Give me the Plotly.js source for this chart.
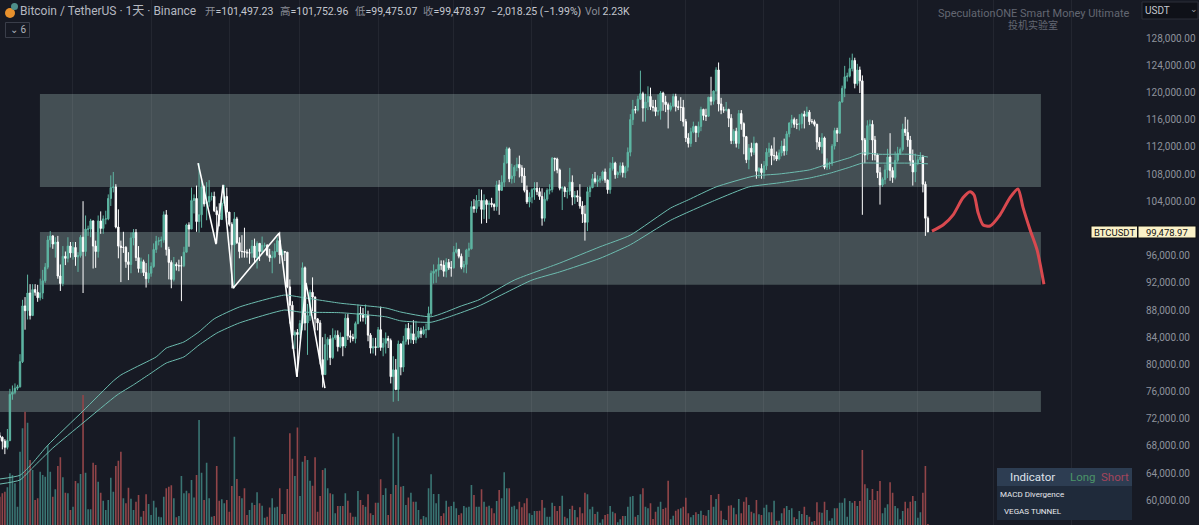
<!DOCTYPE html>
<html>
<head>
<meta charset="utf-8">
<script src="https://cdn.plot.ly/plotly-3.0.1.min.js"></script>
<style>html,body{margin:0;padding:0;background:#171a24;overflow:hidden}#chart{width:1199px;height:525px}</style>
</head>
<body>
<div id="chart"></div>
<script>
// Daily BTC/USDT candles, prices in thousands of USDT, first candle = day 0
const opens = [
70.3,69.5,69.3,68.7,67.8,68.8,75.6,75.9,76.5,76.7,80.4,88.6,87.9,90.5,87.2,91.0,90.6,89.8,90.5,92.3,94.3,98.3,98.9,97.7,98.0,93.0,91.9,95.9,95.6,97.4,
96.4,97.2,95.8,96.0,98.7,96.6,99.9,99.9,101.1,97.4,96.6,101.1,100.0,101.4,101.4,104.4,106.0,106.1,100.2,97.4,97.2,97.2,95.1,94.7,98.6,99.4,95.7,94.1,95.1,93.5,92.6,
93.4,94.4,96.9,98.1,98.2,98.3,102.0,96.9,95.0,92.5,94.7,94.5,94.5,94.5,96.5,100.5,99.9,104.1,104.4,101.0,102.0,106.1,103.6,103.9,104.7,104.7,102.6,102.0,101.3,103.7,104.7,
102.4,100.6,97.6,101.4,97.9,96.6,96.6,96.5,96.4,96.4,97.4,95.7,97.8,96.6,97.5,97.5,96.1,95.7,95.8,96.6,98.2,96.1,96.6,96.5,91.4,88.7,84.3,84.7,
84.4,86.0,94.2,86.1,87.2,90.6,89.9,86.7,86.1,80.7,78.5,82.9,83.7,81.0,83.9,84.3,82.6,84.0,82.7,86.8,84.2,84.0,83.8,86.0,87.5,87.4,86.9,87.2,84.3,82.4,82.6,
82.5,85.1,82.5,83.1,83.8,83.5,78.2,79.2,76.3,83.0,79.6,83.4,85.3,83.7,84.5,83.6,84.0,84.9,84.5,85.1,85.1,87.5,93.4,93.7,93.9,94.7,94.6,93.7,95.0,94.2,
94.2,96.5,96.9,95.9,94.3,94.7,96.8,97.0,103.2,102.9,104.1,104.1,102.8,104.1,103.5,103.7,103.5,103.2,106.4,105.6,106.8,109.6,111.7,107.3,107.7,109.0,109.4,108.9,107.7,105.6,103.9,
104.6,105.7,105.9,105.4,104.7,101.5,104.3,105.6,105.7,110.3,110.2,108.6,105.9,106.0,105.4,105.5,106.8,104.6,104.8,104.6,103.3,102.1,100.9,105.4,106.0,107.3,106.9,107.1,107.3,108.3,
107.1,105.7,108.8,109.6,107.9,108.2,109.2,108.2,109.0,111.2,116.0,117.5,117.4,119.0,119.8,117.7,118.6,119.4,117.9,117.8,117.2,117.3,119.9,118.6,118.2,117.5,118.0,119.4,117.9,117.8,117.8,
115.7,113.3,112.5,114.2,115.0,114.1,115.0,117.5,116.6,116.5,119.3,118.7,120.2,123.3,118.3,117.4,117.4,117.5,116.2,112.9,114.3,112.5,116.9,115.4,113.5,110.1,111.8,111.2,112.5,108.4,108.8,
108.2,109.2,111.2,111.7,110.7,110.7,110.2,111.1,112.1,111.4,113.9,115.5,116.0,115.3,115.3,115.4,116.8,116.5,117.1,115.7,115.7,115.3,112.7,112.0,113.3,109.0,109.6,109.6,112.1,114.4,
114.0,118.6,120.6,122.3,122.4,123.5,124.7,121.3,123.3,121.7,113.0,110.8,115.1,115.3,113.0,110.8,108.2,106.4,107.2,108.6,110.5,108.5,107.5,110.0,111.0,111.6,114.6,114.1,113.0,110.0,108.3,
109.6,110.1,110.5,106.5,101.497];
const highs = [
71.6,70.0,69.4,69.0,70.5,76.4,76.9,77.2,77.0,81.5,89.5,89.9,93.2,91.8,91.8,91.8,91.7,92.6,93.9,94.9,98.9,99.6,99.0,98.7,98.9,94.7,97.4,96.6,98.7,98.0,
98.0,98.0,96.5,99.0,104.0,101.9,100.4,101.4,101.2,98.2,101.9,102.5,101.9,102.6,105.0,107.8,108.3,106.5,102.8,98.2,99.5,97.4,96.5,99.4,99.9,99.9,97.4,95.7,95.4,94.9,96.2,
95.0,97.8,98.9,98.7,98.8,102.5,102.7,97.3,95.3,95.8,95.0,95.4,95.9,97.3,100.7,100.9,106.0,105.0,106.3,109.6,107.2,106.3,106.8,107.1,105.3,105.4,103.2,103.7,104.0,106.4,106.0,
102.0,100.9,102.4,101.7,98.7,99.0,100.1,96.9,97.0,98.3,98.5,98.1,97.3,98.8,97.9,97.7,97.0,96.7,97.8,98.7,99.5,96.9,96.6,96.5,92.5,89.3,85.0,85.2,
86.5,95.0,94.4,88.9,91.0,92.8,90.0,86.8,86.5,84.0,84.5,84.0,84.3,85.3,85.0,85.0,84.7,84.0,87.4,87.4,85.0,84.5,86.3,88.8,88.5,88.3,88.8,87.9,84.6,83.9,83.9,
85.5,88.5,83.9,84.7,84.2,83.8,81.2,80.8,83.5,83.1,84.2,85.9,86.1,85.8,86.5,86.4,85.5,85.4,85.6,86.0,88.5,93.8,94.7,94.0,95.7,95.3,95.3,95.6,95.5,95.2,
97.4,97.9,97.0,96.3,95.2,97.0,97.9,104.0,104.3,104.9,105.8,105.7,105.0,104.3,104.1,104.5,103.7,107.0,107.1,107.8,110.8,112.0,111.9,109.5,109.3,110.4,110.7,109.3,108.9,106.3,105.3,
105.9,106.8,106.8,106.0,105.9,105.3,105.9,106.5,110.5,110.4,110.4,108.8,106.2,106.2,106.0,108.9,107.8,105.5,105.6,106.5,104.0,103.4,106.1,106.3,108.0,108.3,107.8,107.7,108.5,108.8,
107.2,109.7,110.5,109.8,108.4,109.7,109.7,109.2,111.9,116.8,118.9,118.0,119.5,123.2,120.1,119.8,120.9,120.7,118.9,118.9,119.7,120.2,120.1,119.5,118.5,118.5,119.8,119.8,118.8,119.3,118.9,
116.1,114.0,114.8,115.7,115.1,115.7,117.9,117.6,117.6,119.3,122.3,120.3,123.7,124.4,119.2,117.9,118.6,117.6,116.8,114.6,114.8,117.4,117.4,115.6,113.6,112.4,112.6,113.5,112.6,109.0,109.5,
109.9,111.8,112.6,112.2,113.4,111.3,111.6,112.9,113.2,114.3,115.6,116.7,116.3,116.1,116.8,117.0,117.3,117.9,117.4,116.1,116.0,115.4,113.4,114.0,113.5,110.3,109.8,112.4,114.8,114.8,
118.7,121.0,123.9,122.9,125.1,125.7,125.1,124.2,123.8,122.5,113.3,115.9,116.0,115.9,113.6,111.0,109.0,107.5,109.4,111.7,114.0,109.0,111.3,112.0,111.9,115.4,116.4,116.0,113.6,111.6,111.0,
110.6,111.2,110.8,106.9,101.753];
const lows = [
68.8,68.8,67.5,66.8,67.5,68.7,74.8,75.6,76.2,76.6,80.2,85.1,86.6,86.6,87.1,90.1,89.2,89.4,89.6,92.0,94.0,97.2,97.0,95.7,92.6,90.8,91.5,94.6,95.0,95.7,
95.4,94.5,93.6,95.7,90.5,95.9,98.9,98.7,94.1,94.2,95.7,99.2,99.2,100.6,101.2,103.3,105.3,100.0,95.6,92.1,96.4,94.2,92.4,93.4,97.5,95.2,93.5,93.4,93.0,91.3,92.0,
92.9,94.2,96.4,97.5,97.2,97.9,96.0,92.5,91.2,92.2,93.8,93.7,89.3,94.3,96.5,97.3,99.9,102.2,99.5,99.4,100.1,103.2,101.2,103.2,104.1,102.4,97.8,100.3,101.3,103.3,101.5,
100.3,91.2,91.2,97.7,95.6,95.7,95.7,95.7,94.8,95.7,94.9,94.1,95.2,96.2,97.2,95.9,95.1,93.4,95.6,96.5,94.8,96.2,95.2,91.2,86.0,82.3,82.3,78.2,
83.8,85.0,85.0,81.4,86.4,87.8,85.0,85.0,80.0,76.6,78.6,80.6,79.9,80.8,83.6,81.9,82.4,81.2,82.4,83.6,83.2,83.4,83.1,85.9,86.3,86.3,85.9,83.4,81.6,81.6,81.3,
82.4,82.0,81.2,81.6,82.4,77.2,74.5,76.2,74.6,78.4,78.9,82.9,82.9,83.1,83.0,83.1,83.8,83.9,84.3,83.9,85.1,87.1,91.9,92.0,92.9,93.9,92.9,92.8,93.9,92.9,
94.1,96.3,95.6,94.0,93.5,93.4,95.8,96.9,102.3,102.3,103.2,100.7,101.4,100.8,101.4,103.1,102.6,102.6,102.0,105.5,106.1,109.7,106.8,106.6,106.7,108.4,107.5,106.7,105.3,103.6,103.1,
103.7,104.2,104.9,104.2,100.4,101.0,104.0,105.0,105.3,108.4,108.1,105.6,102.7,104.6,104.4,104.9,103.4,103.6,103.9,102.9,100.8,98.2,99.6,104.6,105.9,106.6,106.1,106.7,107.0,106.7,
105.1,105.1,108.5,107.3,107.4,107.8,107.5,107.4,108.4,110.6,115.2,116.9,117.2,118.9,115.7,115.7,117.4,117.4,117.2,116.5,116.6,116.0,117.3,117.1,114.7,117.2,117.8,117.2,117.4,115.8,115.0,
112.7,111.9,112.0,114.0,112.7,113.4,114.3,115.9,115.8,116.4,118.1,118.2,118.9,117.2,116.8,117.0,117.2,114.9,112.4,112.4,111.9,111.7,114.5,110.9,109.6,108.7,110.6,110.8,107.3,107.4,107.3,
107.3,108.6,110.5,109.3,110.0,109.9,110.0,110.6,110.7,110.8,113.4,114.8,114.8,114.6,114.4,114.7,114.7,116.8,115.2,115.4,115.0,111.6,111.5,111.0,108.7,108.6,108.7,109.2,111.6,112.7,
113.9,118.5,119.3,121.6,122.2,123.1,120.6,121.0,119.9,102.0,109.6,110.1,113.0,110.0,110.0,107.4,103.5,106.1,106.5,107.4,107.0,106.7,107.2,109.7,110.8,111.3,113.6,112.0,109.2,106.3,106.8,
109.3,109.8,105.3,98.9,99.475];
const closes = [
69.5,69.3,68.7,67.8,68.8,75.6,75.9,76.5,76.7,80.4,88.6,87.9,90.5,87.2,91.0,90.6,89.8,90.5,92.3,94.3,98.3,98.9,97.7,98.0,93.0,91.9,95.9,95.6,97.4,96.4,
97.2,95.8,96.0,98.7,96.6,99.9,99.9,101.1,97.4,96.6,101.1,100.0,101.4,101.4,104.4,106.0,106.1,100.2,97.4,97.2,97.2,95.1,94.7,98.6,99.4,95.7,94.1,95.1,93.5,92.6,93.4,
94.4,96.9,98.1,98.2,98.3,102.0,96.9,95.0,92.5,94.7,94.5,94.5,94.5,96.5,100.5,99.9,104.1,104.4,101.0,102.0,106.1,103.6,103.9,104.7,104.7,102.6,102.0,101.3,103.7,104.7,102.4,
100.6,97.6,101.4,97.9,96.6,96.6,96.5,96.4,96.4,97.4,95.7,97.8,96.6,97.5,97.5,96.1,95.7,95.8,96.6,98.2,96.1,96.6,96.5,91.4,88.7,84.3,84.7,84.4,
86.0,94.2,86.1,87.2,90.6,89.9,86.7,86.1,80.7,78.5,82.9,83.7,81.0,83.9,84.3,82.6,84.0,82.7,86.8,84.2,84.0,83.8,86.0,87.5,87.4,86.9,87.2,84.3,82.4,82.6,82.5,
85.1,82.5,83.1,83.8,83.5,78.2,79.2,76.3,83.0,79.6,83.4,85.3,83.7,84.5,83.6,84.0,84.9,84.5,85.1,85.1,87.5,93.4,93.7,93.9,94.7,94.6,93.7,95.0,94.2,94.2,
96.5,96.9,95.9,94.3,94.7,96.8,97.0,103.2,102.9,104.1,104.1,102.8,104.1,103.5,103.7,103.5,103.2,106.4,105.6,106.8,109.6,111.7,107.3,107.7,109.0,109.4,108.9,107.7,105.6,103.9,104.6,
105.7,105.9,105.4,104.7,101.5,104.3,105.6,105.7,110.3,110.2,108.6,105.9,106.0,105.4,105.5,106.8,104.6,104.8,104.6,103.3,102.1,100.9,105.4,106.0,107.3,106.9,107.1,107.3,108.3,107.1,
105.7,108.8,109.6,107.9,108.2,109.2,108.2,109.0,111.2,116.0,117.5,117.4,119.0,119.8,117.7,118.6,119.4,117.9,117.8,117.2,117.3,119.9,118.6,118.2,117.5,118.0,119.4,117.9,117.8,117.8,115.7,
113.3,112.5,114.2,115.0,114.1,115.0,117.5,116.6,116.5,119.3,118.7,120.2,123.3,118.3,117.4,117.4,117.5,116.2,112.9,114.3,112.5,116.9,115.4,113.5,110.1,111.8,111.2,112.5,108.4,108.8,108.2,
109.2,111.2,111.7,110.7,110.7,110.2,111.1,112.1,111.4,113.9,115.5,116.0,115.3,115.3,115.4,116.8,116.5,117.1,115.7,115.7,115.3,112.7,112.0,113.3,109.0,109.6,109.6,112.1,114.4,114.0,
118.6,120.6,122.3,122.4,123.5,124.7,121.3,123.3,121.7,113.0,110.8,115.1,115.3,113.0,110.8,108.2,106.4,107.2,108.6,110.5,108.5,107.5,110.0,111.0,111.6,114.6,114.1,113.0,110.0,108.3,109.6,
110.1,110.5,106.5,101.5,99.479];
// Daily volume, thousands of BTC
const volumes = [
11.3,11.3,12.7,13.3,15.1,20.7,20,16.7,7.3,29.3,38.7,45.3,40.9,26,22,
10,10.7,21.3,20,19.3,32,21.3,11.3,14.3,23.6,27.1,19.1,12.9,12.7,6,7.3,17.6,16.7,20.4,52,20.9,6.3,6.3,24.9,24,17.3,12.9,9.7,6,10,18.9,13.3,23.6,25.7,29.3,
10.7,8.7,14.9,10.5,6,9.3,12,3.3,5.6,12.3,8.4,4,9.7,7,3.3,3.1,11.3,14.7,15.3,15.9,10.7,3.1,3.6,19.6,12.7,13.7,12.7,18,11,20,42,20.9,10,24.9,10.7,3.3,3.6,23.6,9.7,10.3,8.7,10,5.3,15.6,35.3,18.4,11.6,10.7,14.7,4,
6,8.9,8,13.1,8.7,7.7,2.9,3.3,7,10.7,7,7.3,14.7,4.4,4.4,14.4,36.7,26.5,19.6,39,11.6,25.3,27.6,26,17.7,15.7,27.1,5.3,11.6,22,22.7,14.7,12.7,12.3,4.7,7.6,7.6,7.6,12.7,9.7,4.9,3.3,3.3,13.6,10,8,7.3,12.3,4.7,4,
8.9,8.9,18.3,12,14.7,4,12.4,36.7,16,35.3,15.3,15.6,8,11,12.9,9.3,9.3,6,2.3,3.6,3.1,14.7,20.3,12.4,8.7,12.4,3.6,4.7,9.7,7.3,7.6,9.3,6.7,4,4.7,7.6,7,7.3,16,12,7.3,7.3,
14.3,9.3,7.3,7.7,6.7,4.7,9.6,14,10.7,21.1,14.7,14.7,7.3,7.7,6.3,9.3,7.1,8.7,10.7,4.7,4,5.6,5.6,5.7,10,6.9,3.3,3.3,8.9,7.6,5.6,7.6,11.7,3.3,2.7,6.4,7.7,6,3.1,7.1,4.7,12.9,12.3,6.3,7.3,4.4,5.3,0.9,2.3,4,4.4,7.6,5.3,4.7,1.1,2.3,3.6,3.6,7.3,11.3,11.6,3.3,4,12.3,14.7,7.3,6.7,8.7,2.4,5.3,7.3,9.3,6.4,6.9,17.7,2.3,3.7,5.7,6.3,6.7,7.3,10.9,4.7,3.1,4,5.1,4.4,5.7,4,3.7,6,12,7.3,10.4,12.4,5.7,2.3,2,7.7,7.9,6.9,4.3,10.4,4.7,9.3,11.1,8,5.3,4.7,10,4.3,4,6.9,8.1,5.1,5.1,9.7,1.7,1.7,4.7,6.7,7.6,6,6.7,3.1,2.4,5.6,4.4,7.3,4,3.3,1.3,1.6,9.1,5.1,4.9,9.3,6,1.7,2.7,6.7,6.7,8.9,8.9,10.7,3.3,9.6,8.9,9.6,7.6,9.6,30,16.3,14.7,10,14.4,10,13.6,17.6,4.7,6.9,8.3,17.1,12.9,7.6,6.7,2.3,5.6,9.3,6.7,9.3,11.6,9.6,2.9,5.1,12.9,23.6,0.4];
// Moving-average tunnel: day number and price
const tunnelDays1 = [1,9,14,20,34,46,49,55,63,67,74,80,86,96,114,120,136,154,160,172,184,191,205,223,239,251,267,274,285,300,310,322,328,338,343,350,362,369];
const tunnelHigh  = [63.15,63.7,65.5,68.1,73.15,77.56,78.44,79.6,81.1,82.4,83.3,84.8,86.7,88.44,90.2,89.9,89,88.3,87.7,87,88.6,89.5,92.4,94.9,97.3,99,103,104.2,106.1,107.7,108,108.6,109.3,110.4,111.1,110.9,110.9,110.5];
const tunnelDays2 = [1,9,14,22,34,47.5,54,60.5,67,74,80,87,96,114,120,136,154,160,172,180,191,212,223,239,251,267,285,298,310,322,330,338,343,350,362,369];
const tunnelLow   = [62.4,63,64.8,67.7,71.4,75.5,77,78.6,80.2,81.1,82.85,84.6,86.1,88,87.7,87.6,87,86.4,86.2,87.1,88.6,92.4,93.6,95.6,97.6,101.2,104.2,106.1,106.7,107.4,108.1,109,109.6,109.6,109.6,109.5];
// Hand-drawn white zigzag and red projection
const zigzagDays  = [79.6,86.7,89.5,93.5,111.7,118.8,122.4,129.9];
const zigzagPrice = [109.6,97.7,106.4,91.2,99.3,78.15,92,76.5];
const projDays  = [370.6,375,379,382.9,385.7,387.3,388.9,390.9,393.6,397.6,401.5,404.7,406.7,409.5,412.3,415];
const projPrice = [99.6,100.5,102,104.5,105.4,104.9,102.3,100.5,100.35,102,104.5,105.8,103.1,99.8,96.8,91.8];
// Zones: from day, to day, price bottom, price top
const zoneFrom   = [16.9,16.9,-2];
const zoneTo     = [413.8,413.8,413.8];
const zoneBottom = [106.1,91.7,73];
const zoneTop    = [119.76,99.47,76.1];
// Month boundaries for vertical grid
const monthDays = [30,61,92,120,151,181,212,242,273,304,334,365,395,426];
// Price ticks (the 100,000 tick is hidden behind the last-price tag in the reference)
const priceTicks = [60,64,68,72,76,80,84,88,92,96,104,108,112,116,120,124,128];
const priceLabels = ["60,000.00","64,000.00","68,000.00","72,000.00","76,000.00","80,000.00","84,000.00","88,000.00","92,000.00","96,000.00","104,000.00","108,000.00","112,000.00","116,000.00","120,000.00","124,000.00","128,000.00"];

const days = closes.map((_, i) => i);
const UP = '#5eb5a2', DOWN = '#ffffff';
const FONT = "Roboto, 'Noto Sans CJK SC', sans-serif";
const W = 1138, H = 525;

const traces = [
  {type:'bar', x:days, y:volumes, yaxis:'y', hoverinfo:'skip', showlegend:false,
   marker:{color:volumes.map((_,i)=> closes[i]>=opens[i] ? '#3a7573' : '#914549'), line:{width:0}}},
  {type:'candlestick', x:days, open:opens, high:highs, low:lows, close:closes, yaxis:'y2', hoverinfo:'skip', showlegend:false,
   whiskerwidth:0,
   increasing:{line:{color:UP,width:1}, fillcolor:UP},
   decreasing:{line:{color:DOWN,width:1}, fillcolor:DOWN}},
  {type:'scatter', mode:'lines', x:tunnelDays1, y:tunnelHigh, yaxis:'y2', hoverinfo:'skip', showlegend:false,
   line:{color:'#6dbdb0',width:1,shape:'spline',smoothing:0.5}},
  {type:'scatter', mode:'lines', x:tunnelDays2, y:tunnelLow, yaxis:'y2', hoverinfo:'skip', showlegend:false,
   line:{color:'#6dbdb0',width:1,shape:'spline',smoothing:0.5}},
  {type:'scatter', mode:'lines', x:zigzagDays, y:zigzagPrice, yaxis:'y2', hoverinfo:'skip', showlegend:false,
   line:{color:'#ffffff',width:1.6}},
  {type:'scatter', mode:'lines', x:projDays, y:projPrice, yaxis:'y2', hoverinfo:'skip', showlegend:false,
   line:{color:'#d9494f',width:3,shape:'spline',smoothing:0.7}}
];

const px = (v) => v / W;
const py = (v) => 1 - v / H;
function box(x0,y0,x1,y1,fill,lineColor){
  return {type:'rect', xref:'paper', yref:'paper', layer:'above', x0:px(x0), x1:px(x1), y0:py(y0), y1:py(y1),
    fillcolor:fill, line:{color:lineColor||'rgba(0,0,0,0)', width:lineColor?1:0}};
}
function label(text,x,y,size,color,anchor){
  return {xref:'paper', yref:'paper', x:px(x), y:py(y), xanchor:anchor||'left', yanchor:'middle', showarrow:false,
    text:text, font:{family:FONT,size:size,color:color}, borderpad:0, borderwidth:0};
}
const V = (t) => '<span style="color:#c4c7cf">'+t+'</span>';

const shapes = zoneFrom.map((f,i)=>({type:'rect', layer:'below', xref:'x', yref:'y2',
  x0:f, x1:zoneTo[i], y0:zoneBottom[i], y1:zoneTop[i], fillcolor:'rgba(140,165,160,0.39)', line:{width:0}}));
shapes.push(
  {type:'circle', xref:'paper', yref:'paper', layer:'above', x0:px(5), x1:px(15), y0:py(18), y1:py(8), fillcolor:'#e8912d', line:{width:0}},
  {type:'circle', xref:'paper', yref:'paper', layer:'above', x0:px(11), x1:px(18), y0:py(10), y1:py(3), fillcolor:'#4f8f8a', line:{width:0}},
  box(5.5,22.5,29.5,37.5,'rgba(0,0,0,0)','#3a3e4a'),
  box(1142,2,1198,19,'#0f1118','#2c2f38'),
  box(997,468,1132,486,'#2d3d52'),
  box(997,486,1132,520,'#1f2a3a'),
  box(1091,226,1137.5,238,'#fbf2c8','#111111'),
  box(1138,226,1196,238,'#fbf2c8','#111111')
);

const annotations = [
  label('Bitcoin / TetherUS · 1天 · Binance',20,11.5,12,'#b5b8c0'),
  label('开'+V('=101,497.23'),204.5,11.5,10.5,'#8a8d97'),
  label('高'+V('=101,752.96'),280,11.5,10.5,'#8a8d97'),
  label('低'+V('=99,475.07'),354.5,11.5,10.5,'#8a8d97'),
  label('收'+V('=99,478.97'),423,11.5,10.5,'#8a8d97'),
  label(V('−2,018.25 (−1.99%)'),491,11.5,10.5,'#c4c7cf'),
  label('Vol'+V(' 2.23K'),585,11.5,10.5,'#8a8d97'),
  label('⌄ 6',10,29.5,10,'#b0b3bb'),
  label('SpeculationONE Smart Money Ultimate',938,14,11,'#636772'),
  label('投机实验室',1032.5,25,10,'#636772','center'),
  label('USDT',1145,10.5,10,'#c4c7cf'),
  label('⌄',1194,9,9,'#9a9da5','center'),
  label('BTCUSDT',1114,232,9.5,'#111111','center'),
  label('99,478.97',1167,232,9.5,'#111111','center'),
  label('Indicator',1032,477,11.5,'#dfe3ea','center'),
  label('Long',1083,477,11.5,'#4b9468','center'),
  label('Short',1115,477,11.5,'#a4455c','center'),
  label('MACD Divergence',1000,494,8,'#e6e8ec'),
  label('VEGAS TUNNEL',1004,511.5,8,'#e6e8ec')
];

const layout = {
  width:1199, height:525,
  margin:{l:0,r:61,t:0,b:0,pad:0},
  paper_bgcolor:'#171a24', plot_bgcolor:'#171a24',
  showlegend:false, dragmode:false, hovermode:false,
  bargap:0.36, boxgap:0.2,
  font:{family:FONT},
  xaxis:{range:[1.07,452.3], fixedrange:true, showticklabels:false, ticks:'', tickmode:'array', tickvals:monthDays,
         showgrid:true, gridcolor:'rgba(255,255,255,0.055)', gridwidth:1, zeroline:false, showline:false,
         rangeslider:{visible:false}},
  yaxis:{range:[0,210], visible:false, fixedrange:true},
  yaxis2:{overlaying:'y', side:'right', anchor:'x', range:[56.38,133.59], fixedrange:true,
          tickmode:'array', tickvals:priceTicks, ticktext:priceLabels, showgrid:false, zeroline:false, showline:false,
          ticks:'outside', ticklen:5, tickcolor:'rgba(0,0,0,0)', tickfont:{family:FONT,size:10,color:'#8e929c'}},
  shapes:shapes, annotations:annotations
};
Plotly.newPlot('chart', traces, layout, {displayModeBar:false, staticPlot:true});
</script>
</body>
</html>
